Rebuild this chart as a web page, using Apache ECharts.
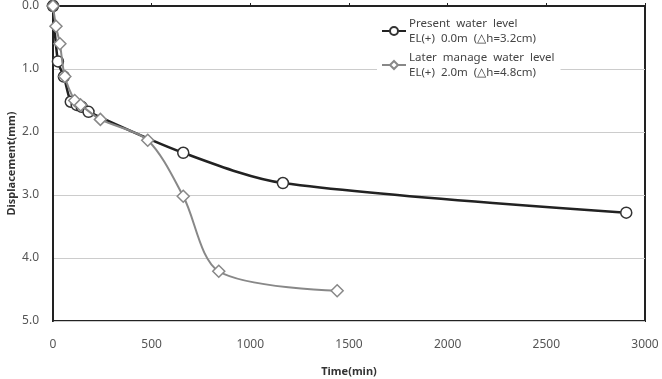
<!DOCTYPE html>
<html>
<head>
<meta charset="utf-8">
<script src="https://cdn.jsdelivr.net/npm/echarts@6/dist/echarts.min.js"></script>
<style>
  html, body { margin: 0; padding: 0; background: #fff; }
  #main { width: 662px; height: 379px; }
</style>
</head>
<body>
<div id="main"></div>
<script>
// present water level (circles): [time(min), displacement(mm)]
const presentData = [
  [0, 0.0], [25, 0.88], [55, 1.12], [90, 1.52], [120, 1.57], [145, 1.6],
  [180, 1.68], [660, 2.33], [1165, 2.81], [2905, 3.28]
];
// later manage water level (diamonds)
const laterData = [
  [0, 0.0], [15, 0.32], [35, 0.6], [60, 1.12], [110, 1.5], [140, 1.57],
  [240, 1.8], [480, 2.13], [660, 3.02], [840, 4.21], [1440, 4.52]
];
const seriesNames = [
  "Present  water  level\nEL(+)  0.0m  (\u25B3h=3.2cm)",
  "Later  manage  water  level\nEL(+)  2.0m  (\u25B3h=4.8cm)"
];

const font = "Noto Sans";
const myChart = echarts.init(document.getElementById("main"));

const option = {
  animation: false,
  textStyle: { fontFamily: font },
  grid: {
    left: 53, right: 17, top: 6, bottom: 58,
    outerBoundsMode: "none",
    show: true, borderColor: "#222", borderWidth: 2, backgroundColor: "#fff"
  },
  legend: {
    orient: "vertical",
    left: 377, top: 14,
    itemWidth: 24, itemHeight: 10, itemGap: 4,
    backgroundColor: "#fff",
    padding: [2, 6, 2, 4],
    textStyle: { fontSize: 11.5, color: "#444", lineHeight: 15, fontFamily: font, padding: [0, 0, 0, -2] },
    data: seriesNames
  },
  xAxis: {
    type: "value",
    min: 0, max: 3000, interval: 500,
    name: "Time(min)", nameLocation: "middle", nameGap: 45,
    nameMoveOverlap: false,
    nameTextStyle: { fontSize: 11, fontWeight: "bold", color: "#333" },
    axisLine: { lineStyle: { color: "#222", width: 2 } },
    axisTick: { inside: true, length: 3, lineStyle: { color: "#222" } },
    axisLabel: { fontSize: 12, color: "#555", margin: 18, formatter: (v) => String(v) },
    splitLine: { show: false }
  },
  yAxis: {
    type: "value",
    inverse: true,
    min: 0, max: 5, interval: 1,
    name: "Displacement(mm)", nameLocation: "middle", nameGap: 36,
    nameMoveOverlap: false,
    nameTextStyle: { fontSize: 11, fontWeight: "bold", color: "#333" },
    axisLine: { show: true, lineStyle: { color: "#222", width: 2 } },
    axisTick: { show: false },
    axisLabel: { fontSize: 12, color: "#555", margin: 14, formatter: (v) => v.toFixed(1) },
    splitLine: { lineStyle: { color: "#ccc", width: 1 } }
  },
  series: [
    {
      name: seriesNames[0],
      type: "line",
      data: presentData,
      smooth: 0.3,
      symbol: "circle",
      symbolSize: 11,
      lineStyle: { color: "#222", width: 2.5 },
      itemStyle: { color: "#fff", borderColor: "#333", borderWidth: 1.5 },
      z: 3
    },
    {
      name: seriesNames[1],
      type: "line",
      data: laterData,
      smooth: 0.3,
      symbol: "diamond",
      symbolSize: 12,
      lineStyle: { color: "#888", width: 2 },
      itemStyle: { color: "#fff", borderColor: "#888", borderWidth: 1.5 },
      z: 4
    }
  ]
};

option && myChart.setOption(option);
</script>
</body>
</html>
